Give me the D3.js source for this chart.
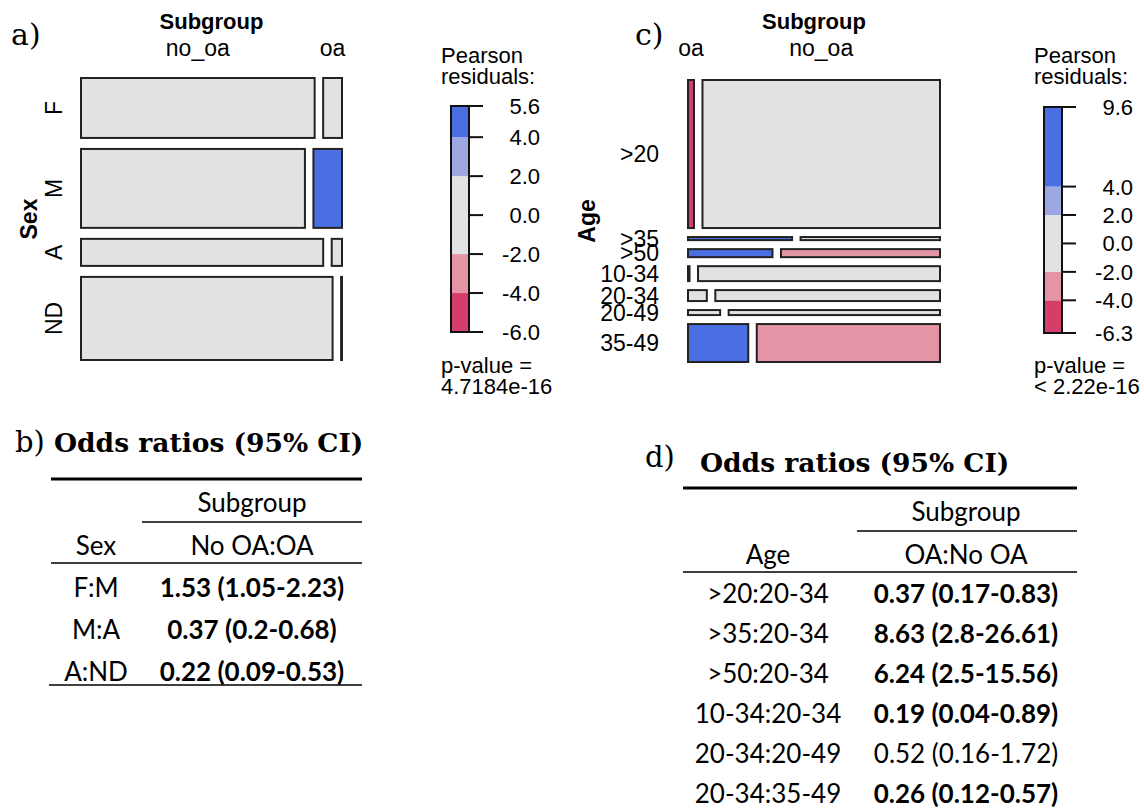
<!DOCTYPE html>
<html>
<head>
<meta charset="utf-8">
<script src="https://cdn.jsdelivr.net/npm/d3@7"></script>
<style>
  body { margin: 0; background: #fff; }
  svg { display: block; }
</style>
</head>
<body>
<div class="vis"></div>
<script>
// a) mosaic: Sex x Subgroup (counts: one row per sex, columns in subgroup order)
const sexLevels = ["F", "M", "A", "ND"];
const sexSubgroups = ["no_oa", "oa"];
const sexCounts = [[531, 47], [665, 90], [258, 13], [785, 9]];
const sexResiduals = [[-0.4, 1.4], [-1.5, 5.6], [0.3, -1.3], [1.6, -6.0]];
const sexPValue = "4.7184e-16";

// c) mosaic: Age x Subgroup
const ageLevels = [">20", ">35", ">50", "10-34", "20-34", "20-49", "35-49"];
const ageSubgroups = ["oa", "no_oa"];
const ageCounts = [[40, 1200], [18, 24], [29, 54], [2, 138], [9, 98], [8, 50], [83, 247]];
const ageResiduals = [[-6.3, 1.9], [5.5, -1.7], [7.0, -2.3], [-2.6, 0.8], [-0.5, 0.2], [1.1, -0.4], [9.6, -3.1]];
const agePValue = "< 2.22e-16";

// shading of the residuals
const residualBreaks = [-4, -2, 2, 4];
const residualColors = ["#D33F6A", "#E495A5", "#E2E2E2", "#9DA8E2", "#4A6FE3"];

// b) odds ratios by sex
const sexPairs = ["F:M", "M:A", "A:ND"];
const sexOR = [1.53, 0.37, 0.22];
const sexLo = [1.05, 0.2, 0.09];
const sexHi = [2.23, 0.68, 0.53];

// d) odds ratios by age
const agePairs = [">20:20-34", ">35:20-34", ">50:20-34", "10-34:20-34", "20-34:20-49", "20-34:35-49"];
const ageOR = [0.37, 8.63, 6.24, 0.19, 0.52, 0.26];
const ageLo = [0.17, 2.8, 2.5, 0.04, 0.16, 0.12];
const ageHi = [0.83, 26.61, 15.56, 0.89, 1.72, 0.57];

const width = 1144, height = 812;
const sans = "'Liberation Sans', Arial, sans-serif",
    serif = "'DejaVu Serif', serif",
    body = "Lato, 'Open Sans', sans-serif";

const fill = d3.scaleThreshold().domain(residualBreaks).range(residualColors);

let svg = d3.select(".vis")
    .append("svg")
    .attr("width", width)
    .attr("height", height);

function mosaic(cfg) {
    const g = svg.append("g");
    const rowTotals = cfg.counts.map(r => d3.sum(r));
    const total = d3.sum(rowTotals);
    const nR = cfg.counts.length;
    const y = d3.scaleLinear()
        .domain([0, total])
        .range([cfg.top, cfg.bottom - (nR - 1) * cfg.gapY]);
    const rowStart = Array.from(d3.cumsum([0].concat(rowTotals)));

    let cells = [];
    cfg.counts.forEach((row, i) => {
        const x = d3.scaleLinear()
            .domain([0, rowTotals[i]])
            .range([cfg.left, cfg.right - (row.length - 1) * cfg.gapX]);
        const colStart = Array.from(d3.cumsum([0].concat(row)));
        row.forEach((v, j) => {
            cells.push({
                i: i, j: j,
                x0: x(colStart[j]) + j * cfg.gapX,
                x1: x(colStart[j] + v) + j * cfg.gapX,
                y0: y(rowStart[i]) + i * cfg.gapY,
                y1: y(rowStart[i + 1]) + i * cfg.gapY,
                r: cfg.residuals[i][j]
            });
        });
    });

    g.selectAll("rect.cell")
        .data(cells)
        .enter().append("rect")
        .attr("class", "cell")
        .attr("x", d => d.x0 + 1)
        .attr("y", d => d.y0 + 1)
        .attr("width", d => Math.max(0.5, d.x1 - d.x0 - 2))
        .attr("height", d => Math.max(0.5, d.y1 - d.y0 - 2))
        .style("fill", d => fill(d.r))
        .style("stroke", "#222")
        .style("stroke-width", 2);

    // column labels sit over the cells of the first row
    const first = cells.filter(d => d.i === 0);
    g.selectAll("text.col")
        .data(first)
        .enter().append("text")
        .attr("class", "col")
        .attr("x", d => (d.x0 + d.x1) / 2)
        .attr("y", 56)
        .text(d => cfg.cols[d.j])
        .style("font-family", sans)
        .style("font-size", "23px")
        .style("text-anchor", "middle");

    g.append("text")
        .attr("x", (cfg.left + cfg.right) / 2)
        .attr("y", 29)
        .text("Subgroup")
        .style("font-family", sans)
        .style("font-size", "22px")
        .style("font-weight", "bold")
        .style("text-anchor", "middle");

    const rowMid = i => (y(rowStart[i]) + y(rowStart[i + 1])) / 2 + i * cfg.gapY;
    if (cfg.rotateRows) {
        g.selectAll("text.row")
            .data(cfg.rows)
            .enter().append("text")
            .attr("class", "row")
            .attr("transform", (d, i) => "translate(" + cfg.rowX + " " + rowMid(i) + ") rotate(-90)")
            .text(d => d)
            .style("font-family", sans)
            .style("font-size", "23px")
            .style("text-anchor", "middle");
    } else {
        g.selectAll("text.row")
            .data(cfg.rows)
            .enter().append("text")
            .attr("class", "row")
            .attr("x", cfg.rowX)
            .attr("y", (d, i) => rowMid(i))
            .attr("dy", "0.36em")
            .text(d => d)
            .style("font-family", sans)
            .style("font-size", "23px")
            .style("text-anchor", "end");
    }

    g.append("text")
        .attr("transform", "translate(" + cfg.varX + " " + ((cfg.top + cfg.bottom) / 2) + ") rotate(-90)")
        .text(cfg.varName)
        .style("font-family", sans)
        .style("font-size", "23px")
        .style("font-weight", "bold")
        .style("text-anchor", "middle");
}

function legend(cfg) {
    const g = svg.append("g");
    const all = cfg.residuals.flat();
    const lo = d3.min(all), hi = d3.max(all);
    const y = d3.scaleLinear().domain([lo, hi]).range([cfg.bottom, cfg.top]);

    const edges = [lo].concat(residualBreaks.filter(b => b > lo && b < hi), [hi]);
    const segs = d3.pairs(edges);
    g.selectAll("rect.seg")
        .data(segs)
        .enter().append("rect")
        .attr("x", cfg.x)
        .attr("y", d => y(d[1]))
        .attr("width", 18)
        .attr("height", d => y(d[0]) - y(d[1]))
        .style("fill", d => fill((d[0] + d[1]) / 2));

    g.append("rect")
        .attr("x", cfg.x)
        .attr("y", cfg.top)
        .attr("width", 18)
        .attr("height", cfg.bottom - cfg.top)
        .style("fill", "none")
        .style("stroke", "#111")
        .style("stroke-width", 2);

    const ticks = [hi].concat([4, 2, 0, -2, -4].filter(t => t < hi && t > lo), [lo]);
    g.selectAll("line.tick")
        .data(ticks)
        .enter().append("line")
        .attr("x1", cfg.x + 18)
        .attr("x2", cfg.x + 32)
        .attr("y1", d => y(d))
        .attr("y2", d => y(d))
        .style("stroke", "#111")
        .style("stroke-width", 2);

    g.selectAll("text.tick")
        .data(ticks)
        .enter().append("text")
        .attr("x", cfg.x + 89)
        .attr("y", d => y(d))
        .attr("dy", "0.36em")
        .text(d => d.toFixed(1))
        .style("font-family", sans)
        .style("font-size", "22px")
        .style("text-anchor", "end");

    const lines = [["Pearson", 63], ["residuals:", 84], ["p-value =", 373], [cfg.p, 394]];
    g.selectAll("text.lab")
        .data(lines)
        .enter().append("text")
        .attr("x", cfg.x - 10)
        .attr("y", d => d[1])
        .text(d => d[0])
        .style("font-family", sans)
        .style("font-size", "22px");
}

function oddsTable(cfg) {
    const g = svg.append("g");
    g.append("text")
        .attr("x", cfg.letterX)
        .attr("y", cfg.letterY)
        .text(cfg.letter)
        .style("font-family", serif)
        .style("font-size", "29px");
    g.append("text")
        .attr("x", cfg.titleX)
        .attr("y", cfg.titleY)
        .text("Odds ratios (95% CI)")
        .style("font-family", serif)
        .style("font-size", "26.5px")
        .style("font-weight", "bold");

    const rules = [
        [cfg.left, cfg.right, cfg.topRule, 3],
        [cfg.subLeft, cfg.right, cfg.topRule + 43, 1.6],
        [cfg.left, cfg.right, cfg.topRule + 84, 1.6]
    ];
    if (cfg.bottomRule) rules.push([cfg.left - 2, cfg.right, cfg.bottomRule, 1.6]);
    g.selectAll("line.rule")
        .data(rules)
        .enter().append("line")
        .attr("x1", d => d[0]).attr("x2", d => d[1])
        .attr("y1", d => d[2]).attr("y2", d => d[2])
        .style("stroke", "#000")
        .style("stroke-width", d => d[3]);

    const head = [
        ["Subgroup", cfg.valX, cfg.topRule + 33],
        [cfg.varName, cfg.labX, cfg.topRule + 76],
        [cfg.contrast, cfg.valX, cfg.topRule + 76]
    ];
    g.selectAll("text.head")
        .data(head)
        .enter().append("text")
        .attr("x", d => d[1])
        .attr("y", d => d[2])
        .text(d => d[0])
        .style("font-family", body)
        .style("font-size", "26px")
        .style("text-anchor", "middle");

    const rows = cfg.pairs.map((p, i) => ({
        pair: p,
        txt: cfg.or[i] + " (" + cfg.lo[i] + "-" + cfg.hi[i] + ")",
        sig: cfg.lo[i] > 1 || cfg.hi[i] < 1
    }));
    const ry = d3.scaleLinear().domain([0, 1]).range([cfg.firstRow, cfg.firstRow + cfg.pitch]);

    g.selectAll("text.pair")
        .data(rows)
        .enter().append("text")
        .attr("x", cfg.labX)
        .attr("y", (d, i) => ry(i))
        .text(d => d.pair)
        .style("font-family", body)
        .style("font-size", "26px")
        .style("text-anchor", "middle");

    g.selectAll("text.val")
        .data(rows)
        .enter().append("text")
        .attr("x", cfg.valX)
        .attr("y", (d, i) => ry(i))
        .text(d => d.txt)
        .style("font-family", body)
        .style("font-size", "26px")
        .style("font-weight", d => d.sig ? "bold" : "normal")
        .style("text-anchor", "middle");
}

/* panel letters of the mosaics */
svg.selectAll("text.letter")
    .data([["a)", 11], ["c)", 635]])
    .enter().append("text")
    .attr("x", d => d[1])
    .attr("y", 45)
    .text(d => d[0])
    .style("font-family", serif)
    .style("font-size", "30px");

mosaic({
    counts: sexCounts, residuals: sexResiduals, rows: sexLevels, cols: sexSubgroups,
    left: 80, right: 343, top: 77, bottom: 361, gapX: 6.5, gapY: 9,
    rotateRows: true, rowX: 62, varX: 37, varName: "Sex"
});
legend({ residuals: sexResiduals, x: 451, top: 106, bottom: 332, p: sexPValue });

mosaic({
    counts: ageCounts, residuals: ageResiduals, rows: ageLevels, cols: ageSubgroups,
    left: 687, right: 941, top: 79, bottom: 363, gapX: 6.5, gapY: 7,
    rotateRows: false, rowX: 659, varX: 595, varName: "Age"
});
legend({ residuals: ageResiduals, x: 1044, top: 107, bottom: 333, p: agePValue });

oddsTable({
    letter: "b)", letterX: 15, letterY: 452, titleX: 54, titleY: 452,
    left: 51, right: 362, subLeft: 142, topRule: 479, bottomRule: 685,
    labX: 96, valX: 252, varName: "Sex", contrast: "No OA:OA",
    firstRow: 597, pitch: 42,
    pairs: sexPairs, or: sexOR, lo: sexLo, hi: sexHi
});

oddsTable({
    letter: "d)", letterX: 645, letterY: 467, titleX: 700, titleY: 472,
    left: 683, right: 1077, subLeft: 857, topRule: 488, bottomRule: null,
    labX: 768, valX: 966, varName: "Age", contrast: "OA:No OA",
    firstRow: 603, pitch: 40,
    pairs: agePairs, or: ageOR, lo: ageLo, hi: ageHi
});
</script>
</body>
</html>
